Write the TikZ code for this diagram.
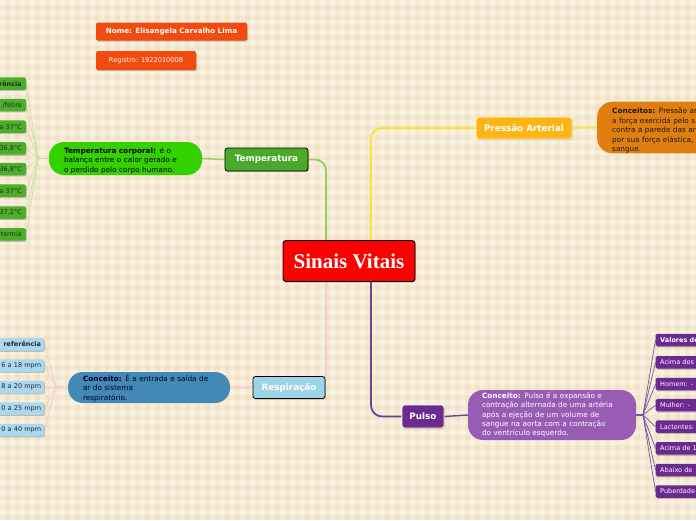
\documentclass[tikz,border=0pt]{standalone}
\usepackage{fontspec}
\setmainfont{DejaVu Sans}
\newfontfamily\titlefont{Liberation Serif}
\usetikzlibrary{shadows}
\definecolor{bgbase}{HTML}{F2E2C4}
\definecolor{cred}{HTML}{FF0000}
\definecolor{tgreen}{HTML}{4AA92A}
\definecolor{tconc}{HTML}{33D100}
\definecolor{tlist}{HTML}{4CAF2A}
\definecolor{tline}{HTML}{9CCB5E}
\definecolor{tfanc}{HTML}{C8E0A0}
\definecolor{pyel}{HTML}{FDB515}
\definecolor{pconc}{HTML}{E07F0F}
\definecolor{pline}{HTML}{FFE233}
\definecolor{rblue}{HTML}{9FD3EA}
\definecolor{rconc}{HTML}{4389B5}
\definecolor{rlist}{HTML}{A9D8F0}
\definecolor{rline}{HTML}{F6C6D2}
\definecolor{upurp}{HTML}{6B2A90}
\definecolor{uconc}{HTML}{995CB5}
\definecolor{uline}{HTML}{6E3F93}
\definecolor{ufanc}{HTML}{7B4E9E}
\definecolor{norange}{HTML}{F24B0F}
\pgfdeclarelayer{back}
\pgfdeclarelayer{lines}
\pgfsetlayers{back,lines,main}
\tikzset{
  shad/.style={drop shadow={shadow xshift=0.8pt, shadow yshift=-1.2pt, opacity=0.3, fill=black!70}},
  catbox/.style={rounded corners=2.5pt, inner sep=0pt, text=white, line width=0.8pt,
    font=\fontsize{8.8}{10}\selectfont\bfseries, shad},
  namebox/.style={fill=norange, rounded corners=2pt, inner sep=0pt, text=white, shad},
  concept/.style={rounded corners=15pt, inner ysep=0pt, align=left},
  leftitem/.style={rounded corners=1.5pt, anchor=east, minimum height=12.5pt, text width=52pt,
    align=right, inner xsep=4pt, inner ysep=0pt, font=\fontsize{6.5}{7}\selectfont, shad},
  rightitem/.style={rounded corners=1.5pt, anchor=west, minimum height=12.5pt, text width=52pt,
    align=left, inner xsep=4.5pt, inner ysep=0pt, font=\fontsize{6.5}{7}\selectfont, shad},
  mainline/.style={line width=1.8pt, rounded corners=11pt},
  fanline/.style={line width=0.7pt}
}
\begin{document}
\begin{tikzpicture}[x=1pt,y=-1pt]
\begin{pgfonlayer}{back}
\fill[bgbase] (0,0) rectangle (696,520);
\foreach \i in {0,10,...,690} \fill[white,opacity=0.3] (\i,0) rectangle ++(5,520);
\foreach \j in {0,10,...,510} \fill[white,opacity=0.3] (0,\j) rectangle ++(696,5);
\end{pgfonlayer}
\useasboundingbox (0,0) rectangle (696,520);
\begin{scope}
\clip (0,0) rectangle (696,520);
% central
\node[draw=black, fill=cred, rounded corners=3pt, line width=0.9pt, minimum width=132pt, minimum height=41pt,
  inner sep=0pt, text=white, font=\titlefont\fontsize{21}{24}\selectfont\bfseries, shad] (central) at (349,261) {Sinais Vitais};
% categories
\node[catbox, draw=black, fill=tgreen, minimum width=83pt, minimum height=23pt] (temp) at (266.5,159.5) {Temperatura};
\node[catbox, draw=white!85!yellow, fill=pyel, minimum width=96pt, minimum height=22pt] (press) at (524,128) {Pressão Arterial};
\node[catbox, draw=black, fill=rblue, minimum width=72pt, minimum height=22pt] (resp) at (289,387.5) {Respiração};
\node[catbox, draw=white!85!yellow, fill=upurp, minimum width=42pt, minimum height=23pt] (pulso) at (423,416.5) {Pulso};
% name boxes
\node[namebox, minimum width=151pt, minimum height=18pt, font=\fontsize{7.2}{8}\selectfont\bfseries] (nome) at (171.5,31.5) {Nome: Elisangela Carvalho Lima};
\node[namebox, minimum width=100pt, minimum height=19pt, font=\fontsize{6.6}{8}\selectfont] (reg) at (146,60.5) {Registro: 1922010008};
% concepts
\node[concept, fill=tconc, text=black, minimum height=33pt, text width=123pt, inner xsep=15pt,
  font=\fontsize{7.3}{9.3}\selectfont] (tc) at (125.5,158.5)
  {\rule{0pt}{10.5pt}\textbf{Temperatura corporal:} é o\\balanço entre o calor gerado e\\o perdido pelo corpo humano.};
\node[concept, fill=pconc, text=black!90, minimum height=49pt, text width=150pt, inner xsep=15pt, anchor=west,
  font=\fontsize{7.3}{9.5}\selectfont] (pc) at (597,127.5)
  {\rule{0pt}{12pt}\textbf{Conceitos:} Pressão ar\\a força exercida pelo s\\contra a parede das ar\\por sua força elástica,\\sangue.};
\node[concept, fill=rconc, text=black!85!blue, minimum height=31pt, text width=132pt, inner xsep=15pt,
  font=\fontsize{7.3}{9.4}\selectfont] (rc) at (149,387.5)
  {\rule{0pt}{8.5pt}\textbf{Conceito:} É a entrada e saída de\\ar do sistema\\respiratório.};
\node[concept, fill=uconc, text=white, minimum height=50pt, text width=140pt, inner xsep=14pt,
  font=\fontsize{7.3}{9.35}\selectfont] (uc) at (552,415)
  {\textbf{Conceito:} Pulso é a expansão e\\contração alternada de uma artéria\\após a ejeção de um volume de\\sangue na aorta com a contração\\do ventrículo esquerdo.};
% temperature list
\node[leftitem, fill=tlist, text=black!85] (t1) at (26,83.5) {\textbf{rência}};
\node[leftitem, fill=tlist, text=black!85] (t2) at (26,105) {/febre};
\node[leftitem, fill=tlist, text=black!85] (t3) at (26,126.7) {a 37°C};
\node[leftitem, fill=tlist, text=black!85] (t4) at (26,148.3) {36,8°C};
\node[leftitem, fill=tlist, text=black!85] (t5) at (26,169) {36,8°C};
\node[leftitem, fill=tlist, text=black!85] (t6) at (26,190.7) {a 37°C};
\node[leftitem, fill=tlist, text=black!85] (t7) at (26,212.5) {37,2°C};
\node[leftitem, fill=tlist, text=black!85] (t8) at (26,234.3) {termia};
% respiration list
\node[leftitem, fill=rlist, text=black!85, inner xsep=3pt] (r1) at (44.3,344.3) {\textbf{referência}};
\node[leftitem, fill=rlist, text=black!85, inner xsep=3pt] (r2) at (44.3,365.5) {6 a 18 mpm};
\node[leftitem, fill=rlist, text=black!85, inner xsep=3pt] (r3) at (44.3,387) {8 a 20 mpm};
\node[leftitem, fill=rlist, text=black!85, inner xsep=3pt] (r4) at (44.3,408.5) {0 a 25 mpm};
\node[leftitem, fill=rlist, text=black!85, inner xsep=3pt] (r5) at (44.3,430) {0 a 40 mpm};
% pulse list
\node[rightitem, fill=upurp, text=white] (u1) at (655.5,340) {\textbf{Valores de}};
\node[rightitem, fill=upurp, text=white] (u2) at (655.5,362.3) {Acima dos};
\node[rightitem, fill=upurp, text=white] (u3) at (655.5,384) {Homem: -};
\node[rightitem, fill=upurp, text=white] (u4) at (655.5,405.2) {Mulher: -};
\node[rightitem, fill=upurp, text=white] (u5) at (655.5,426.7) {Lactentes:};
\node[rightitem, fill=upurp, text=white] (u6) at (655.5,448.3) {Acima de 1};
\node[rightitem, fill=upurp, text=white] (u7) at (655.5,470) {Abaixo de};
\node[rightitem, fill=upurp, text=white] (u8) at (655.5,491.5) {Puberdade};
\end{scope}
% connectors
\coordinate (gA) at ([xshift=-23pt]central.north);
\coordinate (yA) at ([xshift=22pt]central.north);
\coordinate (pA) at ([xshift=-23pt]central.south);
\coordinate (uA) at ([xshift=22pt]central.south);
\coordinate (tf) at (38,158.5);
\coordinate (rf) at (56,387);
\coordinate (uf) at (643,415);
\begin{pgfonlayer}{lines}
\draw[mainline, tline] (gA) |- (temp.east);
\draw[mainline, pline] (yA) |- (press.west);
\draw[mainline, rline] (pA) |- (resp.east);
\draw[mainline, uline] (uA) |- (pulso.west);
\draw[line width=1.4pt, tline] (temp.west) -- (tc.east);
\draw[line width=1.4pt, pline] (press.east) -- (pc.west);
\draw[line width=1.4pt, rline] (resp.west) -- (rc.east);
\draw[line width=1.4pt, uline] (pulso.east) -- (uc.west);
\draw[line width=1.2pt, tfanc] (tc.west) -- (tf);
\draw[line width=1.2pt, rline] (rc.west) -- (rf);
\draw[line width=1.2pt, ufanc] (uc.east) -- (uf);
\foreach \k in {1,...,8} \draw[fanline, tfanc] (tf) -- (t\k.east);
\foreach \k in {1,...,5} \draw[fanline, rline] (rf) -- (r\k.east);
\foreach \k in {1,...,8} \draw[fanline, ufanc] (uf) -- (u\k.west);
\end{pgfonlayer}
\end{tikzpicture}
\end{document}
